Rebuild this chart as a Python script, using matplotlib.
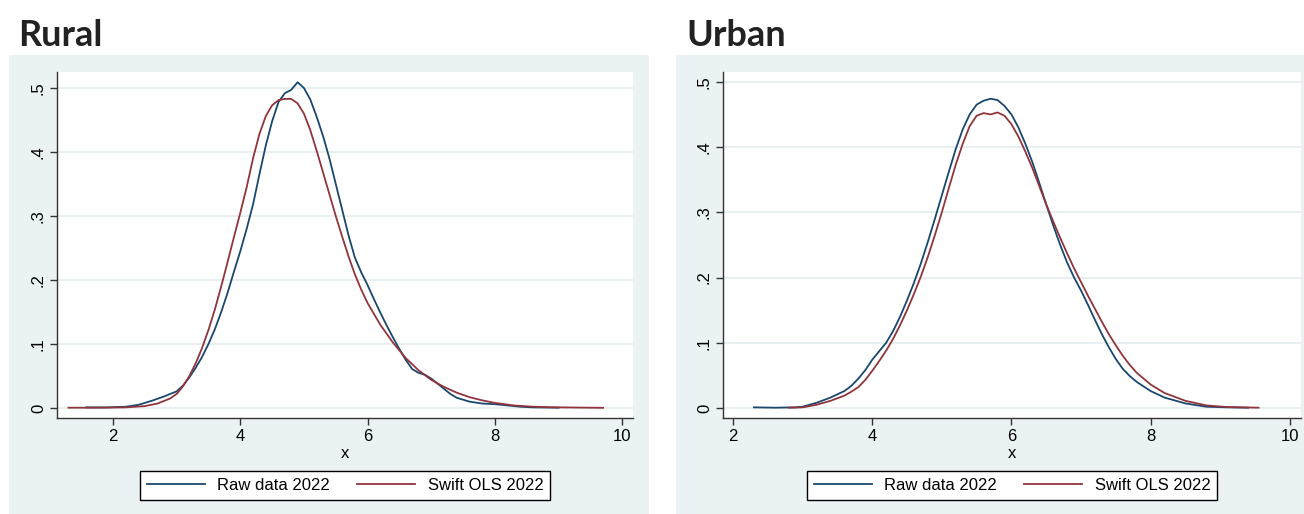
import matplotlib.pyplot as plt
from matplotlib.patches import Rectangle

# ---------------- data ----------------
rural_raw_x = [1.58, 1.9, 2.2, 2.4, 2.6, 2.8, 3.0, 3.1, 3.2, 3.3, 3.4, 3.5, 3.6, 3.7, 3.8, 3.9,
               4.0, 4.1, 4.2, 4.3, 4.4, 4.5, 4.6, 4.7, 4.8, 4.9, 5.0, 5.1, 5.2, 5.3, 5.4, 5.5,
               5.6, 5.7, 5.8, 5.9, 6.0, 6.1, 6.2, 6.3, 6.4, 6.5, 6.6, 6.7, 6.8, 6.9, 7.0, 7.1,
               7.2, 7.3, 7.4, 7.6, 7.8, 8.0, 8.2, 8.4, 8.6, 9.0]
rural_raw_y = [0.001, 0.001, 0.002, 0.005, 0.011, 0.018, 0.026, 0.035, 0.048, 0.063, 0.080, 0.100,
               0.123, 0.150, 0.180, 0.213, 0.245, 0.280, 0.318, 0.365, 0.410, 0.448, 0.478, 0.492,
               0.497, 0.509, 0.500, 0.482, 0.455, 0.425, 0.390, 0.350, 0.310, 0.270, 0.235, 0.212,
               0.192, 0.170, 0.149, 0.129, 0.110, 0.092, 0.075, 0.061, 0.055, 0.052, 0.046, 0.038,
               0.030, 0.022, 0.016, 0.010, 0.007, 0.006, 0.004, 0.002, 0.001, 0.0005]

rural_ols_x = [1.3, 1.8, 2.2, 2.5, 2.7, 2.9, 3.0, 3.1, 3.2, 3.3, 3.4, 3.5, 3.6, 3.7, 3.8, 3.9,
               4.0, 4.1, 4.2, 4.3, 4.4, 4.5, 4.6, 4.7, 4.8, 4.9, 5.0, 5.1, 5.2, 5.3, 5.4, 5.5,
               5.6, 5.7, 5.8, 5.9, 6.0, 6.2, 6.4, 6.6, 6.8, 7.0, 7.2, 7.4, 7.6, 7.8, 8.0, 8.3,
               8.6, 9.0, 9.7]
rural_ols_y = [0.0005, 0.0005, 0.001, 0.003, 0.007, 0.015, 0.022, 0.034, 0.050, 0.070, 0.094, 0.122,
               0.154, 0.190, 0.228, 0.267, 0.305, 0.345, 0.390, 0.428, 0.456, 0.473, 0.481, 0.483,
               0.483, 0.476, 0.460, 0.434, 0.402, 0.368, 0.334, 0.300, 0.268, 0.237, 0.209, 0.185,
               0.164, 0.130, 0.102, 0.078, 0.059, 0.044, 0.033, 0.024, 0.017, 0.012, 0.008, 0.004,
               0.002, 0.001, 0.0003]

urban_raw_x = [2.3, 2.6, 2.9, 3.0, 3.2, 3.4, 3.6, 3.7, 3.8, 3.9, 4.0, 4.1, 4.2, 4.3, 4.4, 4.5,
               4.6, 4.7, 4.8, 4.9, 5.0, 5.1, 5.2, 5.3, 5.4, 5.5, 5.6, 5.7, 5.8, 5.9, 6.0, 6.1,
               6.2, 6.3, 6.4, 6.5, 6.6, 6.7, 6.8, 6.9, 7.0, 7.1, 7.2, 7.3, 7.4, 7.5, 7.6, 7.7,
               7.8, 8.0, 8.2, 8.5, 8.8, 9.1, 9.4]
urban_raw_y = [0.001, 0.0005, 0.001, 0.002, 0.008, 0.016, 0.026, 0.034, 0.045, 0.058, 0.074, 0.087,
               0.100, 0.118, 0.140, 0.165, 0.192, 0.222, 0.255, 0.290, 0.326, 0.362, 0.397, 0.427,
               0.450, 0.465, 0.471, 0.474, 0.472, 0.463, 0.450, 0.430, 0.405, 0.377, 0.345, 0.312,
               0.280, 0.250, 0.223, 0.200, 0.180, 0.158, 0.135, 0.113, 0.093, 0.075, 0.060, 0.049,
               0.040, 0.026, 0.016, 0.007, 0.002, 0.001, 0.0005]

urban_ols_x = [2.8, 3.0, 3.2, 3.4, 3.6, 3.7, 3.8, 3.9, 4.0, 4.1, 4.2, 4.3, 4.4, 4.5, 4.6, 4.7,
               4.8, 4.9, 5.0, 5.1, 5.2, 5.3, 5.4, 5.5, 5.6, 5.7, 5.8, 5.9, 6.0, 6.1, 6.2, 6.3,
               6.4, 6.5, 6.6, 6.7, 6.8, 6.9, 7.0, 7.1, 7.2, 7.3, 7.4, 7.5, 7.6, 7.7, 7.8, 8.0,
               8.2, 8.5, 8.8, 9.1, 9.55]
urban_ols_y = [0.0005, 0.001, 0.005, 0.011, 0.019, 0.025, 0.032, 0.043, 0.057, 0.072, 0.088, 0.106,
               0.127, 0.150, 0.175, 0.202, 0.232, 0.265, 0.300, 0.337, 0.373, 0.405, 0.432, 0.448,
               0.452, 0.450, 0.453, 0.448, 0.435, 0.416, 0.393, 0.368, 0.340, 0.312, 0.286, 0.261,
               0.237, 0.214, 0.193, 0.172, 0.152, 0.132, 0.113, 0.096, 0.080, 0.066, 0.054, 0.036,
               0.023, 0.011, 0.004, 0.0015, 0.0005]

x_ticks = [2, 4, 6, 8, 10]
y_ticks = [0, 0.1, 0.2, 0.3, 0.4, 0.5]
y_tick_labels = ['0', '.1', '.2', '.3', '.4', '.5']
series_labels = ['Raw data 2022', 'Swift OLS 2022']
panel_titles = ['Rural', 'Urban']

# ---------------- style ----------------
bg_col = '#EAF2F3'
grid_col = '#E3ECEE'
navy = '#1A476F'
maroon = '#90353B'
tick_font = {'family': 'Liberation Sans', 'size': 12}

W, H = 1304, 514
fig = plt.figure(figsize=(W / 100, H / 100), dpi=100)

# light panel backgrounds (Stata s2color look)
for x0, x1 in [(9, 649), (676, 1304)]:
    fig.patches.append(Rectangle((x0 / W, 0), (x1 - x0) / W, (H - 55) / H,
                                 transform=fig.transFigure, facecolor=bg_col,
                                 edgecolor='none', zorder=0))

panels = [
    dict(rect=(57, 633), xlim=(1.12, 10.17), ylim=(-0.0156, 0.525), title_x=18,
         raw=(rural_raw_x, rural_raw_y), ols=(rural_ols_x, rural_ols_y)),
    dict(rect=(723, 1301), xlim=(1.856, 10.16), ylim=(-0.0153, 0.515), title_x=686,
         raw=(urban_raw_x, urban_raw_y), ols=(urban_ols_x, urban_ols_y)),
]

top_px, bot_px = 72, 418

for p, title in zip(panels, panel_titles):
    l, r = p['rect']
    ax = fig.add_axes([l / W, 1 - bot_px / H, (r - l) / W, (bot_px - top_px) / H])
    ax.set_facecolor('white')
    ax.set_zorder(2)

    ax.plot(*p['raw'], color=navy, lw=1.3, label=series_labels[0], zorder=3)
    ax.plot(*p['ols'], color=maroon, lw=1.3, label=series_labels[1], zorder=3)

    ax.set_xlim(*p['xlim'])
    ax.set_ylim(*p['ylim'])
    ax.set_xticks(x_ticks)
    ax.set_xticklabels([str(t) for t in x_ticks], fontdict=tick_font)
    ax.set_yticks(y_ticks)
    ax.set_yticklabels(y_tick_labels, fontdict=tick_font, rotation=90, va='center')
    ax.grid(axis='y', color=grid_col, lw=1.2)
    ax.set_axisbelow(True)

    for s in ['top', 'right']:
        ax.spines[s].set_visible(False)
    for s in ['left', 'bottom']:
        ax.spines[s].set_color('#333333')
        ax.spines[s].set_linewidth(1.0)
    ax.tick_params(direction='out', length=5, width=1, color='#333333', pad=3)

    ax.set_xlabel('x', fontdict=tick_font, labelpad=1)

    fig.text(p['title_x'] / W, 1 - 46 / H, title, fontsize=26, fontweight='bold',
             family='Lato', color='#222222', ha='left', va='baseline')

    cx = (l + r) / 2 / W
    leg = ax.legend(loc='center', bbox_to_anchor=(cx, 1 - 485.5 / H), bbox_transform=fig.transFigure,
                    ncol=2, frameon=True, fancybox=False, edgecolor='black', framealpha=1,
                    facecolor='white', prop={'family': 'Liberation Sans', 'size': 12},
                    handlelength=3.5, columnspacing=1.6, handletextpad=0.75,
                    borderpad=0.4, borderaxespad=0)
    leg.get_frame().set_linewidth(1.0)

fig.savefig('out.png', dpi=100)
